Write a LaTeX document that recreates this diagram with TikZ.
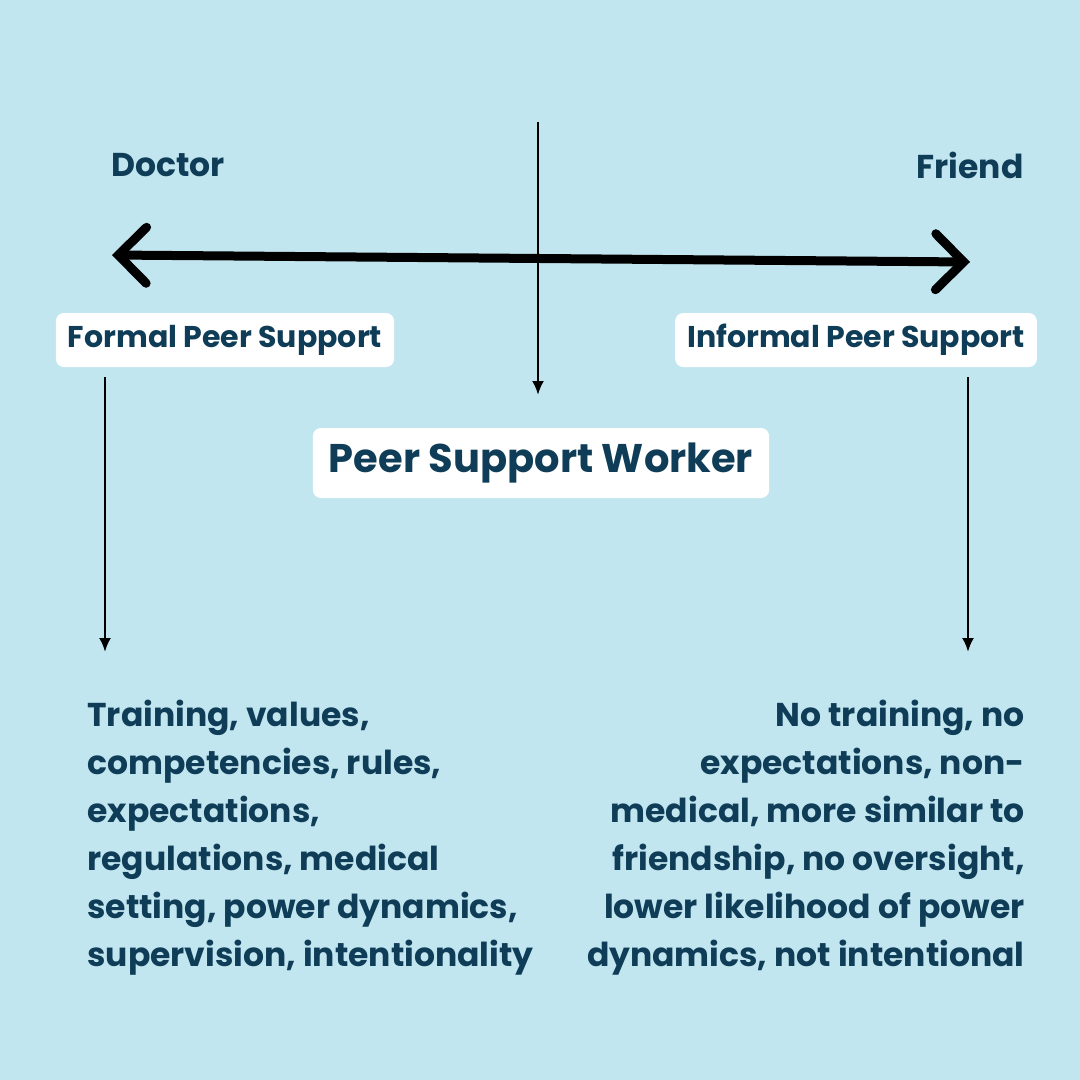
\documentclass[tikz,border=0pt]{standalone}
\usepackage{fontspec}
\setmainfont{Poppins}
\usetikzlibrary{arrows.meta,positioning}
\definecolor{bgblue}{HTML}{C2E6F0}
\definecolor{ink}{HTML}{0F3D57}
\begin{document}
\begin{tikzpicture}[x=1pt,y=-1pt, thick,
	tag/.style = {fill=white,rounded corners=8pt,text=ink,font=\fontsize{30}{34}\selectfont\bfseries,inner xsep=12pt,minimum height=54pt},
	label/.style = {text=ink,font=\fontsize{33}{38}\selectfont\bfseries},
	body/.style = {text=ink,font=\fontsize{33}{48}\selectfont\bfseries,inner sep=0pt},
	down/.style = {-{Latex[length=14pt,width=12pt]},line width=2.5pt}]
	\fill[bgblue] (0,0) rectangle (1080,1080);
	%Top labels
	\node[label] (doctor) at (168,165) {Doctor};
	\node[label] (friend) at (970,165) {Friend};
	%Boxes
	\node[tag] (formal) at (225,340) {Formal Peer Support};
	\node[tag] (informal) at (856,340) {Informal Peer Support};
	\node[tag,font=\fontsize{40}{46}\selectfont\bfseries,minimum height=70pt,inner xsep=16pt] (worker) at (541,463) {Peer Support Worker};
	%Spectrum arrow
	\coordinate (left) at (112,255);
	\coordinate (right) at (970,262);
	\draw[{Straight Barb[length=28pt,width=56pt,line cap=round]}-{Straight Barb[length=28pt,width=56pt,line cap=round]},line width=9pt,line cap=round] (left) -- (right);
	%Vertical arrows
	\coordinate (top) at (538,122);
	\coordinate (mid) at (538,395);
	\draw[down] (top) -- (mid);
	\coordinate (lend) at (105,652);
	\coordinate (rend) at (968,652);
	\draw[down] (105,377) -- (lend);
	\draw[down] (968,377) -- (rend);
	%Descriptions
	\node[body,align=left,anchor=north west] (formaltext) at (87,700) {Training, values,\\competencies, rules,\\expectations,\\regulations, medical\\setting, power dynamics,\\supervision, intentionality};
	\node[body,align=right,anchor=north east] (informaltext) at (1025,700) {No training, no\\expectations, non-\\medical, more similar to\\friendship, no oversight,\\lower likelihood of power\\dynamics, not intentional};
\end{tikzpicture}
\end{document}
